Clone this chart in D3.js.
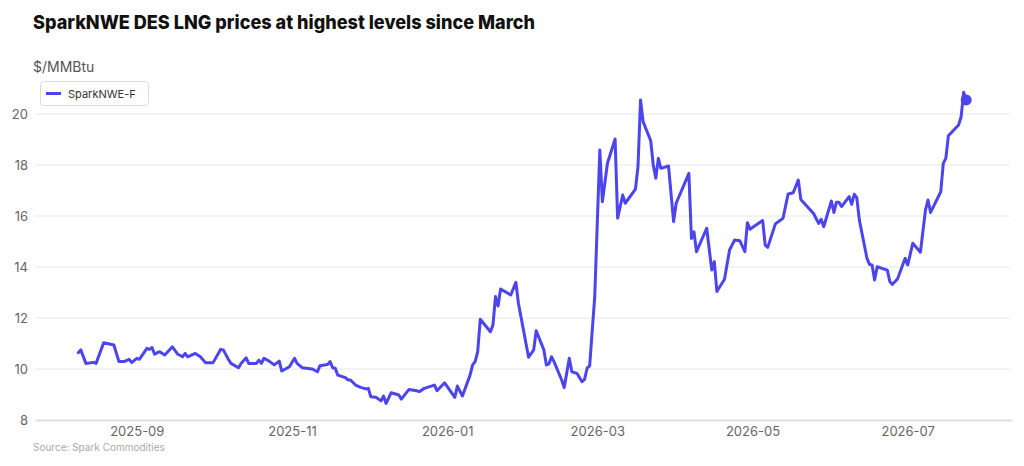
<!DOCTYPE html>
<html>
<head>
<meta charset="utf-8">
<script src="https://cdn.jsdelivr.net/npm/d3@7"></script>
<style>
  html, body { margin: 0; padding: 0; background: #fff; }
  svg { display: block; font-family: Inter, "Open Sans", sans-serif; }
</style>
</head>
<body>
<svg id="chart" width="1024" height="466"></svg>
<script>
const title = "SparkNWE DES LNG prices at highest levels since March";
const unitLabel = "$/MMBtu";
const seriesName = "SparkNWE-F";
const sourceText = "Source: Spark Commodities";
const yTicks = [8, 10, 12, 14, 16, 18, 20];
const xTickDates = ["2025-09-01", "2025-11-01", "2026-01-01", "2026-03-01", "2026-05-01", "2026-07-01"];

const dates = [
"2025-08-09","2025-08-10","2025-08-12","2025-08-15","2025-08-16","2025-08-19","2025-08-23","2025-08-25","2025-08-27","2025-08-29",
"2025-08-30","2025-09-01","2025-09-02","2025-09-05","2025-09-06","2025-09-07","2025-09-08","2025-09-10","2025-09-12","2025-09-15",
"2025-09-17","2025-09-19","2025-09-20","2025-09-21","2025-09-24","2025-09-26","2025-09-28","2025-10-01","2025-10-04","2025-10-05",
"2025-10-07","2025-10-08","2025-10-11","2025-10-12","2025-10-14","2025-10-15","2025-10-18","2025-10-19","2025-10-20","2025-10-21",
"2025-10-23","2025-10-25","2025-10-27","2025-10-28","2025-10-31","2025-11-02","2025-11-03","2025-11-05","2025-11-09","2025-11-11",
"2025-11-12","2025-11-15","2025-11-16","2025-11-17","2025-11-18","2025-11-19","2025-11-22","2025-11-23","2025-11-24","2025-11-26",
"2025-11-28","2025-11-30","2025-12-01","2025-12-02","2025-12-04","2025-12-06","2025-12-07","2025-12-08","2025-12-10","2025-12-13",
"2025-12-14","2025-12-17","2025-12-20","2025-12-21","2025-12-23","2025-12-27","2025-12-28","2025-12-31","2026-01-04","2026-01-05",
"2026-01-07","2026-01-10","2026-01-11","2026-01-12","2026-01-13","2026-01-14","2026-01-18","2026-01-19","2026-01-20","2026-01-21",
"2026-01-22","2026-01-26","2026-01-28","2026-01-29","2026-02-02","2026-02-04","2026-02-05","2026-02-08","2026-02-09","2026-02-10",
"2026-02-11","2026-02-12","2026-02-15","2026-02-16","2026-02-18","2026-02-19","2026-02-21","2026-02-23","2026-02-24","2026-02-25",
"2026-02-26","2026-02-28","2026-03-02","2026-03-03","2026-03-05","2026-03-08","2026-03-09","2026-03-11","2026-03-12","2026-03-16",
"2026-03-17","2026-03-18","2026-03-19","2026-03-22","2026-03-23","2026-03-24","2026-03-25","2026-03-26","2026-03-29","2026-03-31",
"2026-04-01","2026-04-06","2026-04-07","2026-04-08","2026-04-09","2026-04-13","2026-04-15","2026-04-16","2026-04-17","2026-04-20",
"2026-04-22","2026-04-24","2026-04-26","2026-04-28","2026-04-29","2026-04-30","2026-05-05","2026-05-06","2026-05-07","2026-05-10",
"2026-05-13","2026-05-15","2026-05-17","2026-05-19","2026-05-20","2026-05-25","2026-05-27","2026-05-28","2026-05-29","2026-06-01",
"2026-06-02","2026-06-03","2026-06-04","2026-06-05","2026-06-08","2026-06-09","2026-06-10","2026-06-11","2026-06-12","2026-06-15",
"2026-06-16","2026-06-17","2026-06-18","2026-06-19","2026-06-23","2026-06-24","2026-06-25","2026-06-27","2026-06-30","2026-07-01",
"2026-07-03","2026-07-06","2026-07-08","2026-07-09","2026-07-10","2026-07-14","2026-07-15","2026-07-16","2026-07-17","2026-07-21",
"2026-07-22","2026-07-23","2026-07-24"
];

const values = [
10.64,10.75,10.22,10.26,10.22,11.03,10.94,10.29,10.29,10.38,
10.25,10.42,10.38,10.81,10.77,10.84,10.58,10.68,10.55,10.87,
10.59,10.48,10.61,10.48,10.61,10.48,10.25,10.25,10.77,10.75,
10.38,10.22,10.05,10.22,10.44,10.22,10.22,10.35,10.22,10.42,
10.31,10.16,10.31,9.92,10.09,10.42,10.22,10.05,10.00,9.89,
10.13,10.18,10.29,10.05,10.03,9.76,9.66,9.57,9.57,9.37,
9.28,9.22,9.24,8.91,8.89,8.75,8.94,8.65,9.07,8.98,
8.82,9.20,9.15,9.11,9.24,9.37,9.15,9.46,8.89,9.33,
8.94,9.76,10.16,10.29,10.68,11.95,11.46,11.73,12.84,12.47,
13.14,12.90,13.40,12.58,10.46,10.75,11.50,10.75,10.16,10.20,
10.48,10.29,9.57,9.27,10.42,9.89,9.83,9.50,9.59,10.03,
10.12,12.84,18.59,16.56,18.07,19.02,15.91,16.82,16.50,17.05,
17.94,20.55,19.70,18.95,18.00,17.48,18.26,17.87,17.96,15.78,
16.50,17.67,15.12,15.38,14.60,15.52,13.88,14.21,13.04,13.52,
14.67,15.06,15.03,14.60,15.74,15.48,15.82,14.86,14.77,15.69,
15.91,16.86,16.91,17.41,16.65,16.10,15.71,15.87,15.58,16.59,
16.14,16.54,16.54,16.37,16.76,16.46,16.85,16.72,15.84,14.34,
14.10,14.08,13.49,14.01,13.88,13.42,13.32,13.53,14.34,14.08,
14.93,14.58,16.24,16.63,16.14,16.95,18.07,18.26,19.15,19.57,
19.89,20.85,20.55
];

const lineColor = "#4c44ec";
const parse = d3.utcParse("%Y-%m-%d");
const data = dates.map((d, i) => ({ date: parse(d), value: values[i] }));

const svg = d3.select("#chart");
const plotLeft = 35, plotRight = 1012, plotTop = 114, plotBottom = 420;

const x = d3.scaleUtc()
  .domain([parse("2025-07-23"), parse("2026-08-11")])
  .range([plotLeft, plotRight]);
const y = d3.scaleLinear().domain([8, 20]).range([plotBottom, plotTop]);

// Title
const t = svg.append("text")
  .attr("x", 33).attr("y", 29)
  .attr("font-size", 19).attr("font-weight", 800)
  .attr("fill", "#111")
  .text(title);
const tw = t.node().getComputedTextLength();
if (Math.abs(tw - 502) > 4) t.attr("textLength", 502).attr("lengthAdjust", "spacingAndGlyphs");

// Unit label
svg.append("text").attr("x", 33).attr("y", 72)
  .attr("font-size", 14).attr("fill", "#555").text(unitLabel);

// Grid lines
svg.append("g").selectAll("line")
  .data(yTicks.filter(v => v !== 8))
  .join("line")
  .attr("x1", plotLeft).attr("x2", plotRight - 2)
  .attr("y1", d => y(d)).attr("y2", d => y(d))
  .attr("stroke", "#e6e6e6").attr("stroke-width", 1);

// Y axis labels
const yAxis = d3.axisLeft(y).tickValues(yTicks).tickSize(0).tickPadding(7);
svg.append("g").attr("transform", `translate(${plotLeft},0)`).call(yAxis)
  .call(g => g.select(".domain").remove())
  .call(g => g.selectAll("text").attr("font-size", 13).attr("fill", "#666")
    .attr("font-family", "Inter, 'Open Sans', sans-serif"));

// X axis
const xAxis = d3.axisBottom(x)
  .tickValues(xTickDates.map(parse))
  .tickFormat(d3.utcFormat("%Y-%m"))
  .tickSize(0).tickPadding(7);
svg.append("g").attr("transform", `translate(0,${plotBottom})`).call(xAxis)
  .call(g => g.select(".domain").attr("stroke", "#dedede").attr("stroke-width", 2))
  .call(g => g.selectAll("text").attr("font-size", 13).attr("fill", "#666")
    .attr("font-family", "Inter, 'Open Sans', sans-serif"));

// Line
const line = d3.line().x(d => x(d.date)).y(d => y(d.value)).curve(d3.curveLinear);
svg.append("path").datum(data)
  .attr("d", line)
  .attr("fill", "none")
  .attr("stroke", lineColor)
  .attr("stroke-width", 3)
  .attr("stroke-linejoin", "round")
  .attr("stroke-linecap", "round");

// End dot
const last = data[data.length - 1];
svg.append("circle")
  .attr("cx", x(last.date)).attr("cy", y(last.value))
  .attr("r", 5.5).attr("fill", lineColor);

// Legend
const lg = svg.append("g");
lg.append("rect").attr("x", 40.5).attr("y", 81.5).attr("width", 108).attr("height", 24)
  .attr("rx", 3).attr("fill", "#fff").attr("stroke", "#dcdcdc");
lg.append("line").attr("x1", 46).attr("x2", 61).attr("y1", 93.5).attr("y2", 93.5)
  .attr("stroke", lineColor).attr("stroke-width", 3);
lg.append("text").attr("x", 68).attr("y", 97.5)
  .attr("font-size", 11).attr("fill", "#333").text(seriesName);

// Source
svg.append("text").attr("x", 33).attr("y", 451)
  .attr("font-size", 10).attr("fill", "#aaa").text(sourceText);
</script>
</body>
</html>
